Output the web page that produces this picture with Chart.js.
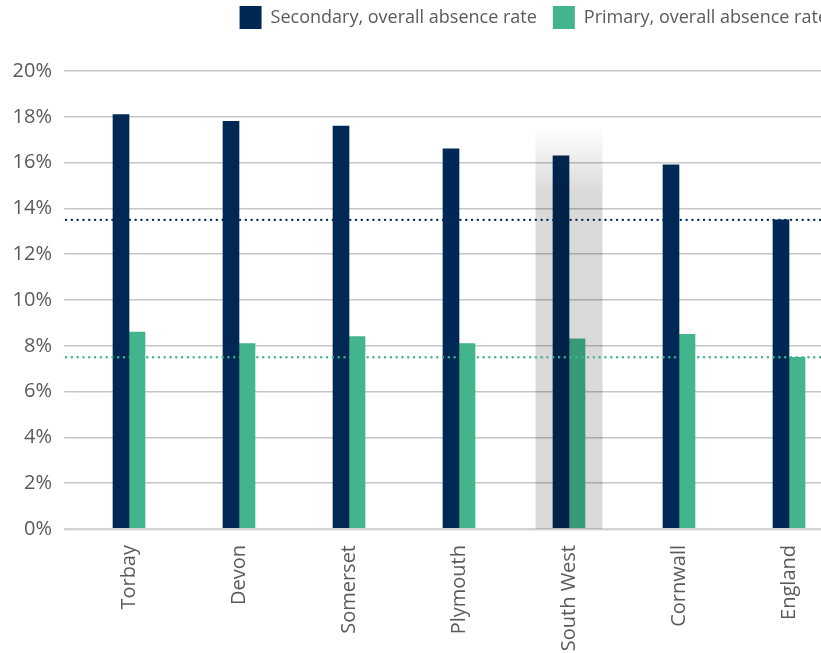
<!DOCTYPE html>
<html>
<head>
<meta charset="utf-8">
<script src="https://cdn.jsdelivr.net/npm/chart.js@4.4.1/dist/chart.umd.min.js"></script>
<style>
    html, body { margin: 0; padding: 0; background: #fff; overflow: hidden; }
    #wrap { width: 850px; height: 653px; position: relative; }
</style>
</head>
<body>
<div id="wrap"><canvas id="myChart"></canvas></div>
<script>
const categories = ['Torbay', 'Devon', 'Somerset', 'Plymouth', 'South West', 'Cornwall', 'England'];
const secondaryRates = [18.1, 17.8, 17.6, 16.6, 16.3, 15.9, 13.5];
const primaryRates = [8.6, 8.1, 8.4, 8.1, 8.3, 8.5, 7.5];
const englandSecondaryRate = 13.5;
const englandPrimaryRate = 7.5;
const highlightIndex = 4;
const yMax = 20;
const yStep = 2;

const navy = 'rgb(0, 40, 85)';
const green = 'rgb(67, 181, 141)';
const textGrey = '#5a5a5a';
const fontName = 'Open Sans';

const ctx = document.getElementById('myChart');

// grey band over the South West bars, fading out at the top
const highlightBand = {
    id: 'highlightBand',
    afterDatasetsDraw(chart) {
        const x = chart.scales.x, y = chart.scales.y, c = chart.ctx;
        const centre = x.getPixelForValue(highlightIndex);
        const w = 67;
        const top = y.getPixelForValue(17.6);
        const full = y.getPixelForValue(14.6);
        const bottom = y.getPixelForValue(0);
        const grad = c.createLinearGradient(0, top, 0, full);
        grad.addColorStop(0, 'rgba(0,0,0,0)');
        grad.addColorStop(1, 'rgba(0,0,0,0.15)');
        c.save();
        c.fillStyle = grad;
        c.fillRect(centre - w / 2, top, w, bottom - top);
        c.restore();

        // England benchmark dotted lines
        const lines = [[englandSecondaryRate, navy], [englandPrimaryRate, green]];
        c.save();
        c.lineWidth = 2.4;
        c.lineCap = 'round';
        c.setLineDash([0.1, 5.7]);
        lines.forEach(function (l) {
            const py = y.getPixelForValue(l[0]);
            c.strokeStyle = l[1];
            c.beginPath();
            c.moveTo(chart.chartArea.left - 8, py);
            c.lineTo(chart.chartArea.right + 10, py);
            c.stroke();
        });
        c.restore();
    }
};

// push the plot down below the legend
const legendSpace = {
    id: 'legendSpace',
    beforeInit(chart) {
        const fit = chart.legend.fit;
        chart.legend.fit = function () {
            fit.bind(chart.legend)();
            this.height = 81;
        };
    }
};

new Chart(ctx, {
    type: 'bar',
    data: {
        labels: categories,
        datasets: [
            {
                label: 'Secondary, overall absence rate',
                data: secondaryRates,
                backgroundColor: navy,
                barThickness: 16
            },
            {
                label: 'Primary, overall absence rate',
                data: primaryRates,
                backgroundColor: green,
                barThickness: 16
            }
        ]
    },
    options: {
        responsive: true,
        maintainAspectRatio: false,
        animation: false,
        categoryPercentage: 0.327,
        layout: { padding: { top: -10, right: 6, left: 0, bottom: 0 } },
        plugins: {
            tooltip: { enabled: false },
            legend: {
                position: 'top',
                align: 'end',
                labels: {
                    boxWidth: 22,
                    boxHeight: 23,
                    padding: 16,
                    color: textGrey,
                    font: { family: fontName, size: 18 }
                }
            }
        },
        scales: {
            x: {
                grid: { display: false },
                border: { display: false },
                ticks: {
                    color: textGrey,
                    font: { family: fontName, size: 20 },
                    minRotation: 90,
                    maxRotation: 90,
                    padding: 8
                },
                afterFit(scale) { scale.height = 124; }
            },
            y: {
                min: 0,
                max: yMax,
                border: { display: false },
                grid: {
                    color: function (c) { return c.tick.value === 0 ? '#d4d4d4' : '#c6c6c6'; },
                    lineWidth: function (c) { return c.tick.value === 0 ? 2.5 : 1.5; },
                    tickLength: 10
                },
                ticks: {
                    stepSize: yStep,
                    color: textGrey,
                    padding: 12,
                    font: { family: fontName, size: 20 },
                    callback: function (v) { return v + '%'; }
                },
                afterFit(scale) { scale.width = 74; }
            }
        }
    },
    plugins: [highlightBand, legendSpace]
});
</script>
</body>
</html>
